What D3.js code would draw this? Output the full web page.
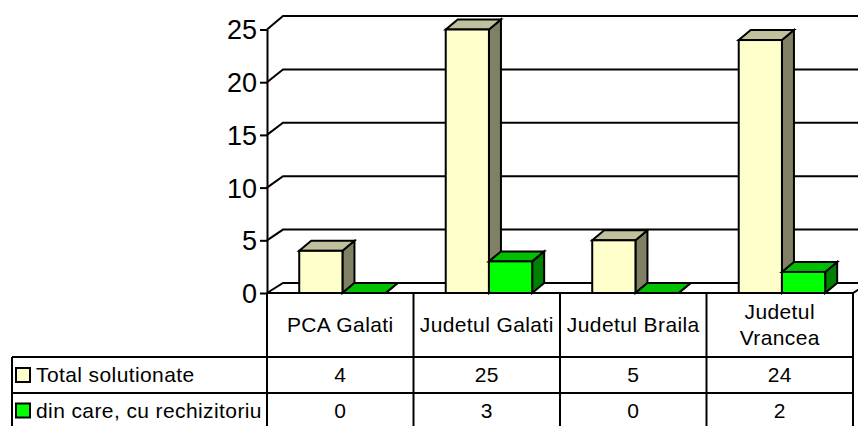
<!DOCTYPE html>
<html>
<head>
<meta charset="utf-8">
<script src="https://cdn.jsdelivr.net/npm/d3@7"></script>
<style>
  body { margin: 0; background: #fff; }
  text { font-family: "Liberation Sans", Arial, sans-serif; fill: #000; }
</style>
</head>
<body>
<div id="chart"></div>
<script>
// data
const categories = ["PCA Galati", "Judetul Galati", "Judetul Braila", "Judetul Vrancea"];
const catLines = [["PCA Galati"], ["Judetul Galati"], ["Judetul Braila"], ["Judetul", "Vrancea"]];
const seriesNames = ["Total solutionate", "din care, cu rechizitoriu"];
const totalSolutionate = [4, 25, 5, 24];
const cuRechizitoriu = [0, 3, 0, 2];
const yTicks = [0, 5, 10, 15, 20, 25];

const series = [
  { name: seriesNames[0], values: totalSolutionate, front: "#ffffcc", top: "#c0c09c", side: "#808064" },
  { name: seriesNames[1], values: cuRechizitoriu, front: "#00ff00", top: "#00c000", side: "#008000" }
];

// layout
const W = 858, H = 426;
const plot = { left: 267, right: 853, floor: 293, top: 29.5 };
const wall = { dx: 16 };        // side wall depth
const bar = { dx: 12, dy: -10 }; // bar depth
const rows = { header: 357, r1: 393, bottom: 428, legendLeft: 12 };

const svg = d3.select("#chart").append("svg").attr("width", W).attr("height", H);

// scales
const x = d3.scaleBand().domain(categories).range([plot.left, plot.right]);
const y = d3.scaleLinear().domain([0, 25]).range([plot.floor, plot.top]);
const yBack = d3.scaleLinear().domain([0, 25]).range([283, 16]);

// gridlines (side wall diagonal + back wall horizontal)
const grid = svg.append("g").attr("fill", "none").attr("stroke", "#000").attr("stroke-width", 2);
yTicks.forEach(v => {
  grid.append("path").attr("d", d3.line()([
    [plot.left, y(v)], [plot.left + wall.dx, yBack(v)], [W + 20, yBack(v)]
  ]));
});
// floor
grid.append("path").attr("d", d3.line()([
  [plot.left, plot.floor], [plot.right, plot.floor], [plot.right + wall.dx, yBack(0)]
]));

// bars
const bw = x.bandwidth() * 0.295;
const x0 = x.bandwidth() * 0.22;
const bars = svg.append("g").attr("stroke", "#000").attr("stroke-width", 2).attr("stroke-linejoin", "miter");

categories.forEach((c, i) => {
  series.forEach((s, j) => {
    const xl = x(c) + x0 + j * bw, xr = xl + bw;
    const yt = y(s.values[i]), yb = y(0);
    const g = bars.append("g");
    // side
    g.append("path").attr("fill", s.side).attr("d", d3.line()([
      [xr, yb], [xr + bar.dx, yb + bar.dy], [xr + bar.dx, yt + bar.dy], [xr, yt]
    ]) + "Z");
    // top
    g.append("path").attr("fill", s.top).attr("d", d3.line()([
      [xl, yt], [xl + bar.dx, yt + bar.dy], [xr + bar.dx, yt + bar.dy], [xr, yt]
    ]) + "Z");
    // front
    if (s.values[i] > 0) {
      g.append("rect").attr("x", xl).attr("y", yt).attr("width", bw).attr("height", yb - yt).attr("fill", s.front);
    }
  });
});

// y axis
const yAxis = svg.append("g").attr("transform", `translate(${plot.left},0)`)
  .call(d3.axisLeft(y).tickValues(yTicks).tickSizeInner(7).tickSizeOuter(0).tickPadding(3));
yAxis.select(".domain").attr("stroke", "#000").attr("stroke-width", 2);
yAxis.selectAll(".tick line").attr("stroke", "#000").attr("stroke-width", 2);
yAxis.selectAll(".tick text").attr("font-size", 27).attr("font-family", "Liberation Sans, Arial, sans-serif").attr("dy", "0.35em");

// data table
const table = svg.append("g").attr("stroke", "#000").attr("stroke-width", 2).attr("fill", "none");
const colEdges = categories.map(c => x(c)).concat([plot.right]);
colEdges.forEach(cx => {
  table.append("line").attr("x1", cx).attr("x2", cx).attr("y1", plot.floor).attr("y2", rows.bottom);
});
[rows.header, rows.r1, rows.bottom].forEach(ry => {
  table.append("line").attr("x1", rows.legendLeft).attr("x2", plot.right).attr("y1", ry).attr("y2", ry);
});
table.append("line").attr("x1", rows.legendLeft).attr("x2", rows.legendLeft).attr("y1", rows.header).attr("y2", rows.bottom);

const txt = svg.append("g").attr("font-size", 21).attr("letter-spacing", "0.4px");
categories.forEach((c, i) => {
  const cx = x(c) + x.bandwidth() / 2;
  const lines = catLines[i];
  lines.forEach((l, k) => {
    txt.append("text").attr("x", cx).attr("y", (plot.floor + rows.header) / 2 + (k - (lines.length - 1) / 2) * 26)
      .attr("dy", "0.35em").attr("text-anchor", "middle").text(l);
  });
  txt.append("text").attr("x", cx).attr("y", (rows.header + rows.r1) / 2).attr("dy", "0.35em")
    .attr("text-anchor", "middle").text(totalSolutionate[i]);
  txt.append("text").attr("x", cx).attr("y", (rows.r1 + 426) / 2 + 1).attr("dy", "0.35em")
    .attr("text-anchor", "middle").text(cuRechizitoriu[i]);
});

// legend keys in table
series.forEach((s, j) => {
  const ry = j === 0 ? (rows.header + rows.r1) / 2 : (rows.r1 + 426) / 2 + 1;
  svg.append("rect").attr("x", 16).attr("y", ry - 7).attr("width", 14).attr("height", 14)
    .attr("fill", s.front).attr("stroke", "#000").attr("stroke-width", 2);
  txt.append("text").attr("x", 36).attr("y", ry).attr("dy", "0.35em").text(s.name);
});
</script>
</body>
</html>
